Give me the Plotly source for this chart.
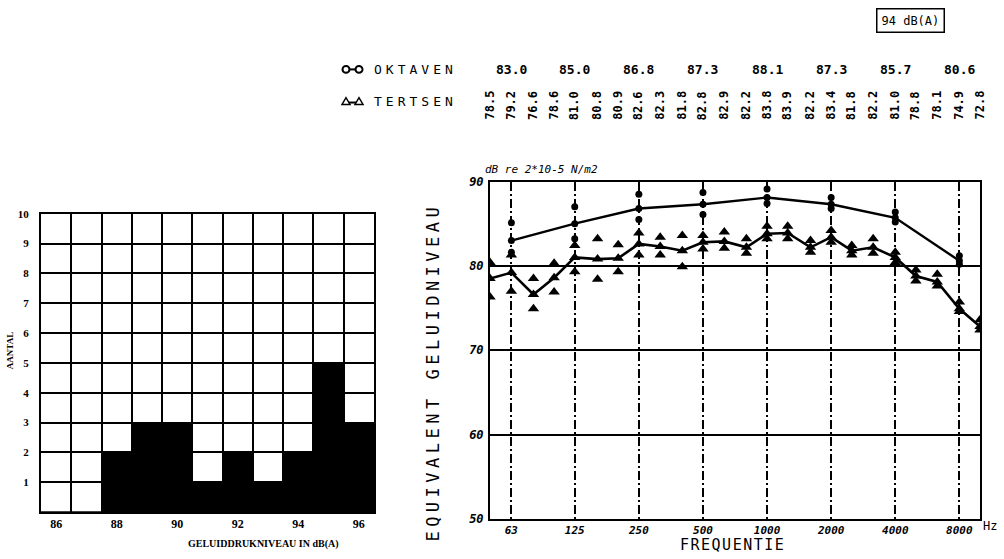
import numpy as np
import plotly.graph_objects as go

# ---- histogram: number of measurements per A-weighted level ----
niveau_dba = [86, 87, 88, 89, 90, 91, 92, 93, 94, 95, 96]
aantal = [0, 0, 2, 3, 3, 1, 2, 1, 2, 5, 3]
hist_xticks = [86, 88, 90, 92, 94, 96]

# ---- octave band spectrum ----
oktaaf_freq = [63, 125, 250, 500, 1000, 2000, 4000, 8000]
oktaaf_label = ["63", "125", "250", "500", "1000", "2000", "4000", "8000"]
oktaven = [83.0, 85.0, 86.8, 87.3, 88.1, 87.3, 85.7, 80.6]
oktaven_max = [85.1, 87.0, 88.5, 88.7, 89.1, 88.1, 86.4, 81.2]
oktaven_min = [81.6, 83.2, 85.5, 86.1, 87.4, 86.8, 85.2, 80.2]

# ---- third-octave band spectrum ----
terts_freq = [50, 63, 80, 100, 125, 160, 200, 250, 315, 400, 500, 630,
              800, 1000, 1250, 1600, 2000, 2500, 3150, 4000, 5000, 6300,
              8000, 10000]
tertsen = [78.5, 79.2, 76.6, 78.6, 81.0, 80.8, 80.9, 82.6, 82.3, 81.8,
           82.8, 82.9, 82.2, 83.8, 83.9, 82.2, 83.4, 81.8, 82.2, 81.0,
           78.8, 78.1, 74.9, 72.8]
tertsen_max = [80.4, 81.3, 78.5, 80.3, 82.4, 83.2, 82.5, 83.9, 83.4, 83.6,
               83.6, 84.0, 83.2, 84.7, 84.7, 83.0, 84.2, 82.4, 83.2, 81.6,
               79.5, 79.0, 75.7, 73.6]
tertsen_min = [76.3, 77.0, 74.9, 76.9, 79.3, 78.4, 79.3, 81.3, 81.3, 79.9,
               82.0, 82.1, 81.5, 83.2, 83.2, 81.6, 82.8, 81.3, 81.5, 80.4,
               78.2, 77.6, 74.6, 72.4]
db_ticks = [50, 60, 70, 80, 90]
totaal_dba = "94 dB(A)"

W, H = 1004, 559


def px(x):
    return x / W


def py(y):
    return 1 - y / H


MONO = "DejaVu Sans Mono"
SERIF = "Liberation Serif"
BLACK = "black"

fig = go.Figure()

# histogram bars
fig.add_trace(go.Bar(
    x=niveau_dba, y=aantal, width=1.0,
    marker=dict(color=BLACK, line=dict(color=BLACK, width=1)),
    xaxis="x", yaxis="y", showlegend=False,
))

# spread of the individual measurements
fig.add_trace(go.Scatter(
    x=terts_freq + terts_freq, y=tertsen_max + tertsen_min, mode="markers",
    marker=dict(symbol="triangle-up", size=10, color=BLACK),
    xaxis="x2", yaxis="y2", showlegend=False,
))
fig.add_trace(go.Scatter(
    x=oktaaf_freq + oktaaf_freq, y=oktaven_max + oktaven_min, mode="markers",
    marker=dict(symbol="circle", size=7, color=BLACK),
    xaxis="x2", yaxis="y2", showlegend=False,
))
# mean spectra
fig.add_trace(go.Scatter(
    x=terts_freq, y=tertsen, mode="lines+markers",
    line=dict(color=BLACK, width=2.6),
    marker=dict(symbol="triangle-up", size=10, color=BLACK),
    xaxis="x2", yaxis="y2", showlegend=False,
))
fig.add_trace(go.Scatter(
    x=oktaaf_freq, y=oktaven, mode="lines+markers",
    line=dict(color=BLACK, width=2.4),
    marker=dict(symbol="circle", size=7, color=BLACK),
    xaxis="x2", yaxis="y2", showlegend=False,
))

fig.update_layout(
    width=W, height=H,
    margin=dict(l=0, r=0, t=0, b=0),
    paper_bgcolor="white", plot_bgcolor="white",
    showlegend=False,
    xaxis=dict(
        domain=[px(41), px(374)], range=[85.5, 96.5],
        tickvals=hist_xticks, ticks="", showgrid=False, zeroline=False,
        showline=True, mirror=True, linecolor=BLACK, linewidth=2,
        tickfont=dict(family=SERIF, size=12, color=BLACK, weight="bold"),
        minor=dict(tickvals=[v + 0.5 for v in niveau_dba[:-1]],
                   showgrid=True, gridcolor=BLACK, gridwidth=2, ticks=""),
        anchor="y", fixedrange=True,
    ),
    yaxis=dict(
        domain=[py(518), py(212)], range=[0, 10],
        tickvals=list(range(1, 11)), ticks="",
        showgrid=True, gridcolor=BLACK, gridwidth=2, zeroline=False,
        showline=True, mirror=True, linecolor=BLACK, linewidth=2,
        tickfont=dict(family=SERIF, size=11, color=BLACK, weight="bold"),
        ticklabelstandoff=8,
        anchor="x", fixedrange=True,
    ),
    xaxis2=dict(
        type="log", domain=[px(490), px(980)],
        range=[np.log10(50), np.log10(10000)],
        tickvals=oktaaf_freq, ticktext=oktaaf_label, ticks="",
        showgrid=True, gridcolor=BLACK, gridwidth=1.5,
        griddash="9px,3px,2px,3px", zeroline=False,
        showline=True, mirror=True, linecolor=BLACK, linewidth=2,
        tickfont=dict(family=MONO, size=11, color=BLACK, weight="bold",
                      style="italic"),
        ticklabelstandoff=0,
        anchor="y2", fixedrange=True,
    ),
    yaxis2=dict(
        domain=[py(525), py(179)], range=[50, 90],
        tickvals=db_ticks, ticks="",
        showgrid=True, gridcolor=BLACK, gridwidth=2, zeroline=False,
        showline=True, mirror=True, linecolor=BLACK, linewidth=2,
        tickfont=dict(family=MONO, size=12, color=BLACK, weight="bold",
                      style="italic"),
        ticklabelstandoff=2,
        anchor="x2", fixedrange=True,
    ),
)

ann = []


def text(x, y, s, size, family=MONO, angle=0, xanchor="center",
         weight="normal", style="normal", **kw):
    ann.append(dict(x=px(x), y=py(y), xref="paper", yref="paper", text=s,
                    showarrow=False, textangle=angle, xanchor=xanchor,
                    yanchor="middle",
                    font=dict(family=family, size=size, color=BLACK,
                              weight=weight, style=style), **kw))


# histogram titles
text(10, 353, "AANTAL", 9, family=SERIF, angle=-90, weight="bold")
text(263, 551, "GELUIDDRUKNIVEAU IN dB(A)", 10, family=SERIF,
     weight="bold")

# spectrum titles
text(433, 375, '<span style="letter-spacing:4.5px">EQUIVALENT GELUIDNIVEAU</span>',
     17, angle=-90)
text(732, 552, '<span style="letter-spacing:1.5px">FREQUENTIE</span>', 15)
text(990, 532, "Hz", 12)
text(483, 167, "dB re 2*10-5 N/m2", 11, xanchor="left", style="italic")

# total level box
ann.append(dict(x=px(910), y=py(14), xref="paper", yref="paper",
                text=totaal_dba, showarrow=False,
                font=dict(family=MONO, size=12, color=BLACK),
                bordercolor=BLACK, borderwidth=1.5, borderpad=4,
                xanchor="center", yanchor="middle"))

# legend rows
ROW1, ROW2 = 64, 97
text(372, ROW1, '<span style="letter-spacing:4px">OKTAVEN</span>', 13,
     xanchor="left")
text(372, ROW2, '<span style="letter-spacing:4px">TERTSEN</span>', 13,
     xanchor="left")

# octave band values above their bands
for f, v in zip(oktaaf_freq, oktaven):
    ann.append(dict(x=np.log10(f), y=py(ROW1), xref="x2", yref="paper",
                    text=f"{v:.1f}", showarrow=False,
                    font=dict(family=MONO, size=13, color=BLACK,
                              weight="bold"),
                    xanchor="center", yanchor="middle"))
# third-octave band values, rotated
for f, v in zip(terts_freq, tertsen):
    ann.append(dict(x=np.log10(f), y=py(101), xref="x2", yref="paper",
                    text=f"{v:.1f}", showarrow=False, textangle=-90,
                    font=dict(family=MONO, size=12, color=BLACK,
                              weight="bold"),
                    xanchor="center", yanchor="middle"))

fig.update_layout(annotations=ann)

# legend glyphs: circle-line-circle and triangle-line-triangle
shapes = [dict(type="line", xref="paper", yref="paper",
               x0=px(346), x1=px(359), y0=py(ROW1), y1=py(ROW1),
               line=dict(color=BLACK, width=2))]
for cx in (346, 359):
    shapes.append(dict(type="circle", xref="paper", yref="paper",
                       x0=px(cx - 3.5), x1=px(cx + 3.5),
                       y0=py(ROW1 + 3.5), y1=py(ROW1 - 3.5),
                       line=dict(color=BLACK, width=2), fillcolor="white"))
shapes.append(dict(type="line", xref="paper", yref="paper",
                   x0=px(346), x1=px(359), y0=py(ROW2 + 1), y1=py(ROW2 + 1),
                   line=dict(color=BLACK, width=2)))
for cx in (346, 359):
    path = (f"M {px(cx - 4)} {py(ROW2 + 3)} L {px(cx + 4)} {py(ROW2 + 3)} "
            f"L {px(cx)} {py(ROW2 - 4)} Z")
    shapes.append(dict(type="path", xref="paper", yref="paper", path=path,
                       line=dict(color=BLACK, width=1.5), fillcolor="white"))
fig.update_layout(shapes=shapes)

fig.write_html("out.html")
